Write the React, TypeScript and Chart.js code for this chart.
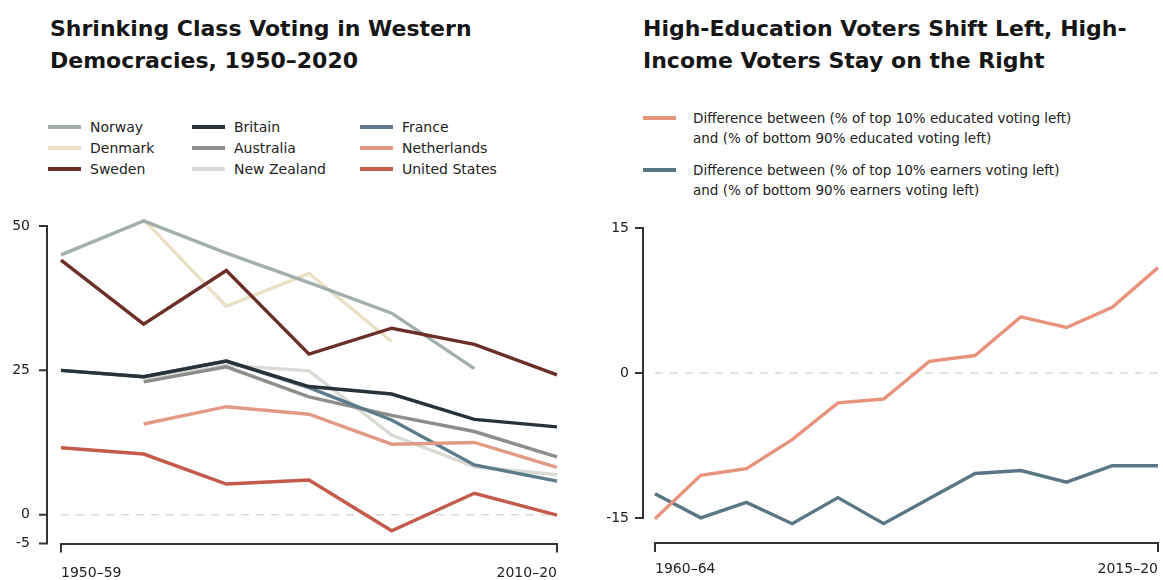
import React, { useEffect, useRef } from 'react';
import { Chart, registerables } from 'chart.js';

Chart.register(...registerables);

const FONT = '"DejaVu Sans", "Liberation Sans", sans-serif';
const INK = '#222222';
const AXIS = '#333333';

// ---------- Left panel data ----------
const decades = ['1950–59', '1960–69', '1970–79', '1980–89', '1990–99', '2000–09', '2010–20'];
const countries = ['Norway', 'Denmark', 'Sweden', 'Britain', 'Australia', 'New Zealand', 'France', 'Netherlands', 'United States'];
const norway = [45.0, 50.9, 45.3, 40.2, 34.9, 25.3, null];
const denmark = [null, 51.1, 36.1, 41.8, 30.0, null, null];
const sweden = [44.1, 33.0, 42.3, 27.8, 32.3, 29.5, 24.2];
const britain = [25.0, 23.9, 26.6, 22.2, 20.9, 16.5, 15.2];
const australia = [null, 23.0, 25.6, 20.4, 17.2, 14.4, 10.0];
const newZealand = [null, 23.3, 25.9, 24.9, 13.8, 8.3, 6.9];
const france = [25.0, 23.9, 26.6, 22.0, 16.4, 8.6, 5.8];
const netherlands = [null, 15.7, 18.7, 17.4, 12.2, 12.5, 8.2];
const unitedStates = [11.6, 10.5, 5.3, 6.0, -2.8, 3.7, -0.1];
const leftTickValues = [-5, 0, 25, 50];

const countrySeries = [norway, denmark, sweden, britain, australia, newZealand, france, netherlands, unitedStates];
const countryColors = ['#a2b0ab', '#ebdfc4', '#6c2f27', '#26333b', '#8d8d89', '#d8dad3', '#5b7a8a', '#e39a85', '#c35a4a'];
// lower = drawn on top
const countryDrawOrder = [7, 8, 2, 1, 6, 9, 5, 4, 3];

// ---------- Right panel data ----------
const periods = ['1960–64', '1965–69', '1970–74', '1975–79', '1980–84', '1985–89', '1990–94', '1995–99', '2000–04', '2005–09', '2010–14', '2015–20'];
const educationGap = [-15.1, -10.6, -9.9, -6.9, -3.1, -2.7, 1.2, 1.8, 5.8, 4.7, 6.8, 10.9];
const incomeGap = [-12.5, -15.0, -13.4, -15.6, -12.9, -15.6, -13.0, -10.4, -10.1, -11.3, -9.6, -9.6];
const rightTickValues = [-15, 0, 15];
const rightLegend = [
  ['Difference between (% of top 10% educated voting left)', 'and (% of bottom 90% educated voting left)'],
  ['Difference between (% of top 10% earners voting left)', 'and (% of bottom 90% earners voting left)'],
];
const rightColors = ['#e8937c', '#587684'];

function axisDeco(gap: number, tickVals: number[]) {
  return {
    id: 'axisDeco',
    beforeDatasetsDraw(chart: any) {
      const { ctx, scales } = chart;
      const x = scales.x;
      const y = scales.y;
      const n = x.ticks.length;
      const y0 = y.getPixelForValue(0);
      ctx.save();
      ctx.strokeStyle = '#d9d9d9';
      ctx.lineWidth = 1.5;
      ctx.setLineDash([8, 7]);
      ctx.beginPath();
      ctx.moveTo(x.getPixelForTick(0), y0);
      ctx.lineTo(x.getPixelForTick(n - 1), y0);
      ctx.stroke();
      ctx.restore();
    },
    afterDraw(chart: any) {
      const { ctx, chartArea, scales } = chart;
      const y = scales.y;
      const ax = Math.round(chartArea.left - gap);
      const lo = Math.min(...tickVals);
      const hi = Math.max(...tickVals);
      const yTop = y.getPixelForValue(hi);
      const yBot = y.getPixelForValue(lo);
      ctx.save();
      ctx.strokeStyle = AXIS;
      ctx.lineWidth = 2;
      ctx.lineJoin = 'miter';
      ctx.beginPath();
      ctx.moveTo(ax - 8, yTop);
      ctx.lineTo(ax, yTop);
      ctx.lineTo(ax, yBot);
      ctx.lineTo(ax - 8, yBot);
      tickVals
        .filter((v) => v !== lo && v !== hi)
        .forEach((v) => {
          const p = y.getPixelForValue(v);
          ctx.moveTo(ax - 8, p);
          ctx.lineTo(ax, p);
        });
      ctx.stroke();
      ctx.restore();
    },
  };
}

function zeroPadding(s: any) {
  s.paddingTop = 0;
  s.paddingBottom = 0;
  s.paddingLeft = 0;
  s.paddingRight = 0;
}

function buildConfig(opts: {
  labels: string[];
  datasets: any[];
  min: number;
  max: number;
  tickVals: number[];
  yWidth: number;
  yPad: number;
  xHeight: number;
  xPad: number;
  padTop: number;
  padRight: number;
  gap: number;
}): any {
  const n = opts.labels.length;
  const font = { family: FONT, size: 14 };
  return {
    type: 'line',
    data: { labels: opts.labels, datasets: opts.datasets },
    plugins: [axisDeco(opts.gap, opts.tickVals)],
    options: {
      responsive: false,
      animation: false,
      devicePixelRatio: 1,
      layout: { padding: { top: opts.padTop, right: opts.padRight, left: 0, bottom: 0 } },
      plugins: { legend: { display: false }, tooltip: { enabled: false }, title: { display: false } },
      elements: { point: { radius: 0, hoverRadius: 0 }, line: { tension: 0, borderWidth: 3.4 } },
      scales: {
        x: {
          type: 'category',
          offset: false,
          afterFit: (s: any) => {
            s.height = opts.xHeight;
            zeroPadding(s);
          },
          grid: {
            display: true,
            drawOnChartArea: false,
            drawTicks: true,
            tickLength: 9,
            lineWidth: 2,
            color: (c: any) => (c.index === 0 || c.index === n - 1 ? AXIS : 'rgba(0,0,0,0)'),
          },
          border: { display: true, color: AXIS, width: 2 },
          ticks: {
            autoSkip: false,
            maxRotation: 0,
            minRotation: 0,
            align: 'inner',
            padding: opts.xPad,
            color: INK,
            font,
            callback: (_v: any, i: number) => (i === 0 || i === n - 1 ? opts.labels[i] : ''),
          },
        },
        y: {
          min: opts.min,
          max: opts.max,
          afterBuildTicks: (s: any) => {
            s.ticks = opts.tickVals.map((v) => ({ value: v }));
          },
          afterFit: (s: any) => {
            s.width = opts.yWidth;
            zeroPadding(s);
          },
          grid: { display: false, drawTicks: false },
          border: { display: false },
          ticks: { padding: opts.yPad, color: INK, font },
        },
      },
    },
  };
}

const legendText: React.CSSProperties = {
  fontFamily: FONT,
  fontSize: 14,
  color: INK,
  whiteSpace: 'nowrap',
};

const titleStyle: React.CSSProperties = {
  position: 'absolute',
  top: 13,
  fontFamily: FONT,
  fontWeight: 'bold',
  fontSize: 22,
  lineHeight: '32px',
  color: '#161616',
  whiteSpace: 'nowrap',
  margin: 0,
};

export default function App() {
  const leftRef = useRef<HTMLCanvasElement | null>(null);
  const rightRef = useRef<HTMLCanvasElement | null>(null);

  useEffect(() => {
    const leftDatasets = countries.map((name, i) => ({
      label: name,
      data: countrySeries[i],
      borderColor: countryColors[i],
      backgroundColor: countryColors[i],
      borderWidth: 3.4,
      pointRadius: 0,
      fill: false,
      spanGaps: false,
      order: countryDrawOrder[i],
    }));
    const rightDatasets = [educationGap, incomeGap].map((d, i) => ({
      label: rightLegend[i].join(' '),
      data: d,
      borderColor: rightColors[i],
      backgroundColor: rightColors[i],
      borderWidth: 3.4,
      pointRadius: 0,
      fill: false,
      clip: false,
    }));

    const left = new Chart(
      leftRef.current as HTMLCanvasElement,
      buildConfig({
        labels: decades,
        datasets: leftDatasets,
        min: -5,
        max: 52,
        tickVals: leftTickValues,
        yWidth: 61,
        yPad: 31,
        xHeight: 36.5,
        xPad: 12,
        padTop: 14.5,
        padRight: 23,
        gap: 14,
      })
    );
    const right = new Chart(
      rightRef.current as HTMLCanvasElement,
      buildConfig({
        labels: periods,
        datasets: rightDatasets,
        min: -17.6,
        max: 15,
        tickVals: rightTickValues,
        yWidth: 75,
        yPad: 26,
        xHeight: 37,
        xPad: 9,
        padTop: 28,
        padRight: 5,
        gap: 12,
      })
    );
    return () => {
      left.destroy();
      right.destroy();
    };
  }, []);

  const legendCols = [48, 192, 360];
  const legendRows = [127, 148, 169];

  return (
    <div style={{ position: 'absolute', left: 0, top: 0, width: 1163, height: 580, background: '#ffffff', overflow: 'hidden' }}>
      <div style={{ ...titleStyle, left: 50 }}>
        Shrinking Class Voting in Western
        <br />
        Democracies, 1950–2020
      </div>
      <div style={{ ...titleStyle, left: 643 }}>
        High-Education Voters Shift Left, High-
        <br />
        Income Voters Stay on the Right
      </div>

      {countries.map((name, i) => {
        const col = Math.floor(i / 3);
        const row = i % 3;
        return (
          <div
            key={name}
            style={{
              position: 'absolute',
              left: legendCols[col],
              top: legendRows[row] - 10,
              height: 20,
              display: 'flex',
              alignItems: 'center',
            }}
          >
            <span style={{ display: 'inline-block', width: 33, height: 3.5, background: countryColors[i], marginRight: 9 }} />
            <span style={legendText}>{name}</span>
          </div>
        );
      })}

      {rightLegend.map((lines, i) => {
        const cy = [118, 170][i];
        return (
          <div key={i}>
            <span
              style={{
                position: 'absolute',
                left: 643,
                top: cy - 1.75,
                width: 33,
                height: 3.5,
                background: rightColors[i],
              }}
            />
            <div style={{ ...legendText, fontSize: 13.5, position: 'absolute', left: 693, top: cy - 10, lineHeight: '20px' }}>
              {lines[0]}
              <br />
              {lines[1]}
            </div>
          </div>
        );
      })}

      <canvas
        ref={leftRef}
        width={580}
        height={380}
        style={{ position: 'absolute', left: 0, top: 200, width: 580, height: 380 }}
      />
      <canvas
        ref={rightRef}
        width={583}
        height={380}
        style={{ position: 'absolute', left: 580, top: 200, width: 583, height: 380 }}
      />
    </div>
  );
}
